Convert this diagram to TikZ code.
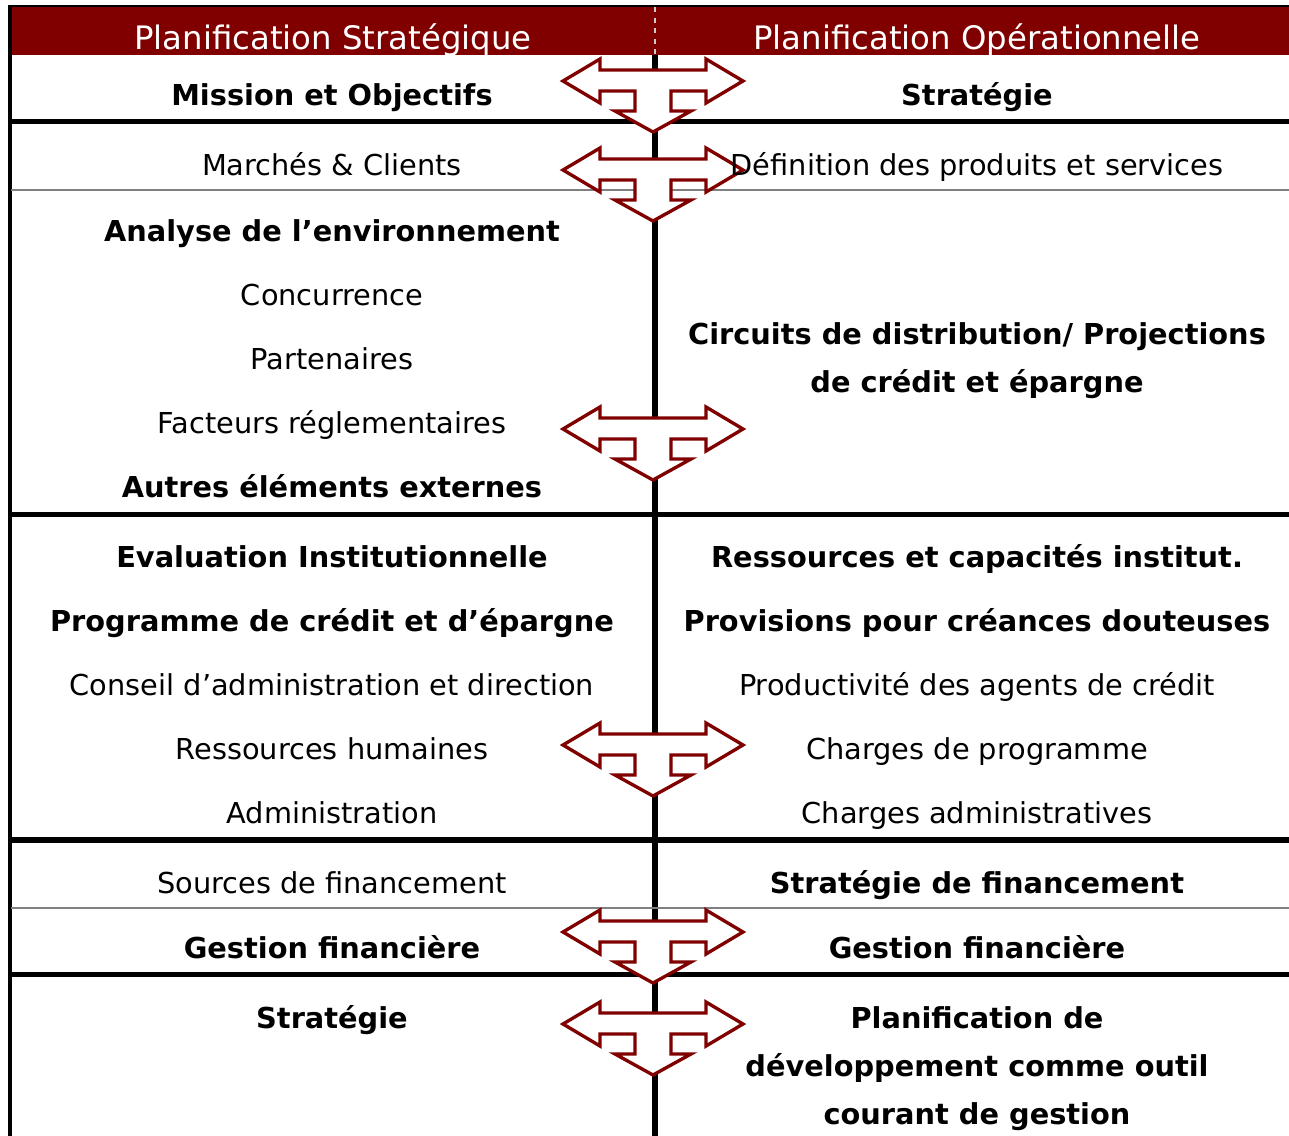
\documentclass[tikz,border=0pt]{standalone}
\usepackage{fontspec}
\setmainfont{DejaVu Sans}
\definecolor{bordeaux}{RGB}{128,0,0}

\tikzset{
  txt/.style={anchor=base, inner sep=0pt, font=\fontsize{16.4}{20}\selectfont},
  txtb/.style={txt, font=\fontsize{16.4}{20}\selectfont\bfseries},
  head/.style={anchor=base, inner sep=0pt, text=white, font=\fontsize{18.4}{22}\selectfont},
  rule/.style={line width=3.2pt},
  fine/.style={line width=1.2pt, gray},
  fleche/.style={draw=bordeaux, line width=1.9pt, fill=white, line join=miter},
}

\begin{document}
\begin{tikzpicture}[x=0.02cm, y=-0.02cm]
\useasboundingbox (0,0) rectangle (1289,1136);

\fill[bordeaux] (10,6) rectangle (1289,55);
\draw[line width=1.3pt] (9,6) -- (1289,6);
\draw[line width=1.9pt] (10,5) -- (10,1136);
\draw[rule] (655,55) -- (655,1136);
\draw[gray!40, dashed, line width=0.8pt] (655,7) -- (655,55);

\foreach \y in {121.5,514.5,840,974.5} \draw[rule] (10,\y) -- (1289,\y);
\foreach \y in {190,908} \draw[fine] (11,\y) -- (1289,\y);

\foreach \y in {81,170,429,745,932,1024} \draw[fleche, shift={(653,\y)}] (-90,0) -- (-53,-22) -- (-53,-11) -- (53,-11) -- (53,-22) -- (90,0) -- (53,22) -- (53,10) -- (18,10) -- (18,30) -- (38,30) -- (0,51) -- (-38,30) -- (-18,30) -- (-18,10) -- (-53,10) -- (-53,22) -- cycle;

\node[head] (hstrat) at (333,49.5) {Planification Stratégique};
\node[head] (hoper) at (977,49.5) {Planification Opérationnelle};

\node[txtb] (mission) at (332,105) {Mission et Objectifs};
\node[txt] (marches) at (332,175) {Marchés \& Clients};
\node[txtb] (analyse) at (332,241) {Analyse de l’environnement};
\node[txt] (concurrence) at (332,305) {Concurrence};
\node[txt] (partenaires) at (332,369) {Partenaires};
\node[txt] (facteurs) at (332,433) {Facteurs réglementaires};
\node[txtb] (autres) at (332,497) {Autres éléments externes};
\node[txtb] (evaluation) at (332,567) {Evaluation Institutionnelle};
\node[txtb] (programme) at (332,631) {Programme de crédit et d’épargne};
\node[txt] (conseil) at (332,695) {Conseil d’administration et direction};
\node[txt] (rh) at (332,759) {Ressources humaines};
\node[txt] (admin) at (332,823) {Administration};
\node[txt] (sources) at (332,893) {Sources de financement};
\node[txtb] (gestiong) at (332,958) {Gestion financière};
\node[txtb] (strategieg) at (332,1028) {Stratégie};

\node[txtb] (strategie) at (977,105) {Stratégie};
\node[txt] (definition) at (977,175) {Définition des produits et services};
\node[txtb] (circuits) at (977,344) {Circuits de distribution/ Projections};
\node[txtb] (circuitsb) at (977,392) {de crédit et épargne};
\node[txtb] (ressources) at (977,567) {Ressources et capacités institut.};
\node[txtb] (provisions) at (977,631) {Provisions pour créances douteuses};
\node[txt] (productivite) at (977,695) {Productivité des agents de crédit};
\node[txt] (chargesprog) at (977,759) {Charges de programme};
\node[txt] (chargesadm) at (977,823) {Charges administratives};
\node[txtb] (financement) at (977,893) {Stratégie de financement};
\node[txtb] (gestiond) at (977,958) {Gestion financière};
\node[txtb] (planif) at (977,1028) {Planification de};
\node[txtb] (planifb) at (977,1076) {développement comme outil};
\node[txtb] (planifc) at (977,1124) {courant de gestion};
\end{tikzpicture}
\end{document}
